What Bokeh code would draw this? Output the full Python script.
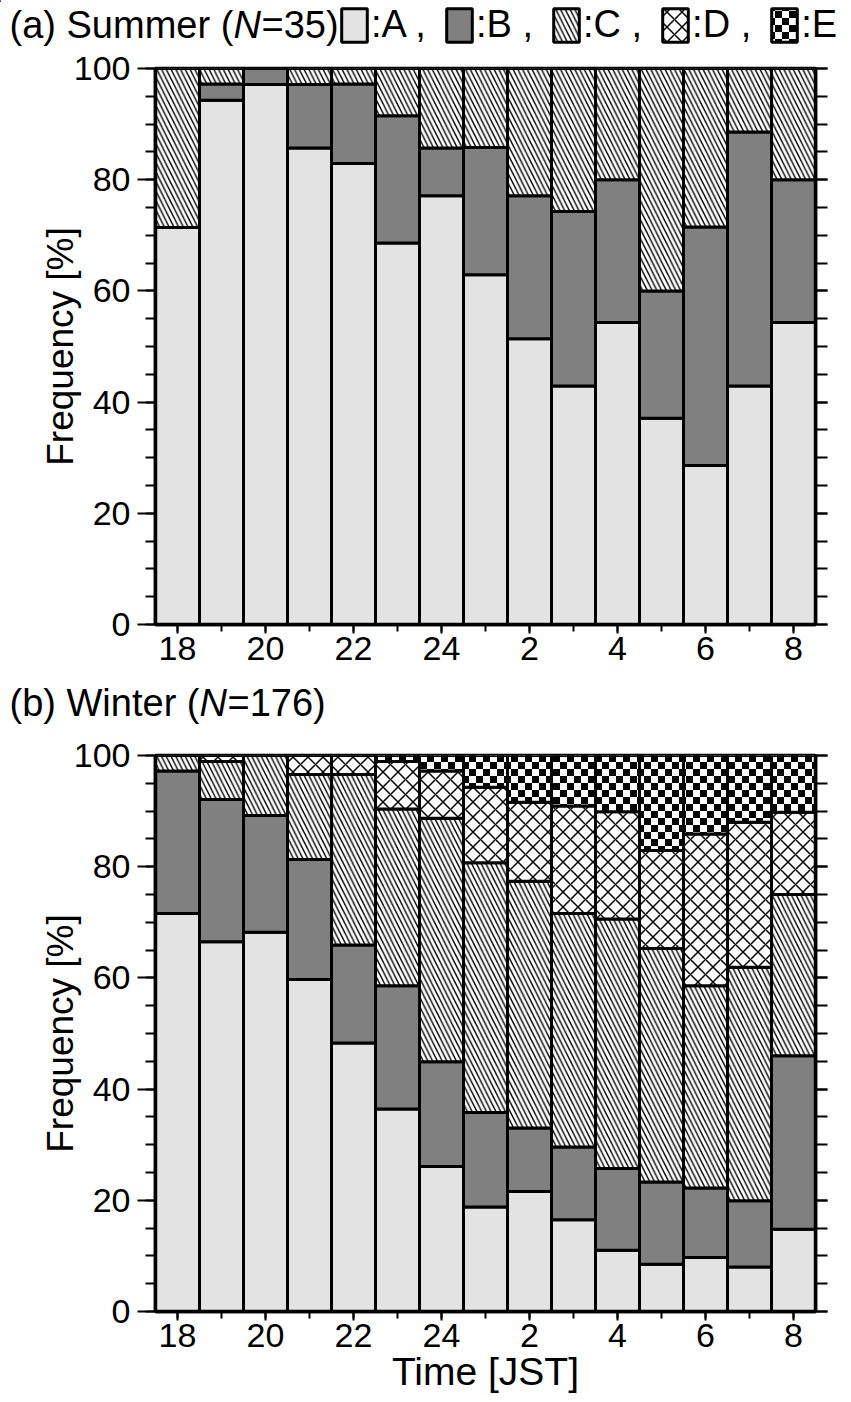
from bokeh.plotting import figure
from bokeh.layouts import column
from bokeh.models import (ColumnDataSource, Range1d, FixedTicker, LinearAxis, Legend,
                          LegendItem, Label, CanvasTexture, Title)
from bokeh.core.properties import value
from bokeh.embed import file_html
from bokeh.resources import INLINE

# ---------------- data ----------------
hours = [18, 19, 20, 21, 22, 23, 24, 25, 26, 27, 28, 29, 30, 31, 32]
tick_positions = [18, 20, 22, 24, 26, 28, 30, 32]
tick_labels = ["18", "20", "22", "24", "2", "4", "6", "8"]
categories = ["A", "B", "C", "D", "E"]
legend_labels = [":A ,", ":B ,", ":C ,", ":D ,", ":E"]

summer_A = [71.4, 94.3, 97.1, 85.7, 82.9, 68.6, 77.1, 62.9, 51.4, 42.9, 54.3, 37.1, 28.6, 42.9, 54.3]
summer_B = [0.0, 2.9, 2.9, 11.4, 14.3, 22.9, 8.6, 22.9, 25.7, 31.4, 25.7, 22.9, 42.9, 45.7, 25.7]
summer_C = [28.6, 2.8, 0.0, 2.9, 2.8, 8.5, 14.3, 14.2, 22.9, 25.7, 20.0, 40.0, 28.5, 11.4, 20.0]
summer_D = [0.0, 0.0, 0.0, 0.0, 0.0, 0.0, 0.0, 0.0, 0.0, 0.0, 0.0, 0.0, 0.0, 0.0, 0.0]
summer_E = [0.0, 0.0, 0.0, 0.0, 0.0, 0.0, 0.0, 0.0, 0.0, 0.0, 0.0, 0.0, 0.0, 0.0, 0.0]

winter_A = [71.6, 66.5, 68.2, 59.7, 48.3, 36.4, 26.1, 18.8, 21.6, 16.5, 11.0, 8.5, 9.7, 8.0, 14.8]
winter_B = [25.6, 25.6, 21.0, 21.6, 17.6, 22.2, 18.8, 17.0, 11.4, 13.1, 14.7, 14.8, 12.5, 11.9, 31.2]
winter_C = [2.8, 6.8, 10.8, 15.3, 30.7, 31.8, 43.8, 44.9, 44.4, 42.0, 44.9, 42.0, 36.4, 42.0, 29.0]
winter_D = [0.0, 1.1, 0.0, 3.4, 3.4, 8.5, 8.5, 13.6, 14.2, 19.3, 19.3, 17.6, 27.3, 26.1, 14.8]
winter_E = [0.0, 0.0, 0.0, 0.0, 0.0, 1.1, 2.8, 5.7, 8.4, 9.1, 10.1, 17.1, 14.1, 12.0, 10.2]

# ---------------- style ----------------
FONT = "Liberation Sans"
checker = CanvasTexture(code="""
const n = 14, h = 7;
ctx.canvas.width = n;
ctx.canvas.height = n;
ctx.setTransform(1, 0, 0, 1, 0, 0);
ctx.fillStyle = "white";
ctx.fillRect(0, 0, n, n);
ctx.fillStyle = "black";
ctx.fillRect(0, 0, h, h);
ctx.fillRect(h, h, h, h);
""")

styles = {
    "A": dict(fill_color="#e3e3e3"),
    "B": dict(fill_color="#808080"),
    "C": dict(fill_color="white", hatch_pattern=value("left_diagonal_line"), hatch_color="black",
              hatch_scale=9.5, hatch_weight=1.4),
    "D": dict(fill_color="white", hatch_pattern=value("diagonal_cross"), hatch_color="black",
              hatch_scale=15, hatch_weight=1.5),
    "E": dict(fill_color="white", hatch_pattern=value("checker"), hatch_extra={"checker": checker},
              hatch_color="black", hatch_scale=14),
}


def header(height, parts, widths, baseline, with_legend):
    h = figure(width=851, height=height, x_range=Range1d(0, 851), y_range=Range1d(height, 0),
               output_backend="svg", toolbar_location=None, x_axis_location=None,
               y_axis_location=None, min_border=0, min_border_left=0, min_border_right=0,
               min_border_top=0, min_border_bottom=0, frame_align=False)
    h.grid.visible = False
    h.outline_line_color = None
    x = 9
    for txt, w, style in zip(parts, widths, ["normal", "italic", "normal"]):
        h.add_layout(Label(x=x, y=baseline, text=txt, text_font=FONT, text_font_size="38px",
                           text_font_style=style, text_baseline="alphabetic", text_color="black"))
        x += w
    if with_legend:
        items = []
        for cat, lab in zip(categories, legend_labels):
            # legend proxy: a zero-height bar lying outside the header's visible range
            r = h.vbar(x=[-100], top=[0], bottom=[0], width=1, line_color="black",
                       line_width=3, **styles[cat])
            items.append(LegendItem(label=lab, renderers=[r]))
        lg = Legend(items=items, location=(338, 1), orientation="horizontal",
                    glyph_width=32, glyph_height=42, label_standoff=1, spacing=17,
                    padding=0, margin=0, border_line_alpha=0, background_fill_alpha=0,
                    label_text_font=FONT, label_text_font_size="38px",
                    label_text_color="black")
        h.add_layout(lg)
    return h


def panel(series, height, b_top, b_bottom, xlabel):
    p = figure(width=851, height=height, x_range=Range1d(17.5, 32.5), y_range=Range1d(0, 100),
               output_backend="svg", toolbar_location=None,
               min_border_left=155, min_border_right=36,
               min_border_top=b_top, min_border_bottom=b_bottom, frame_align=False)
    p.grid.visible = False
    p.outline_line_color = "black"
    p.outline_line_width = 3.5

    bottom = [0.0] * len(hours)
    for cat in categories:
        vals = series[cat]
        top = [b + v for b, v in zip(bottom, vals)]
        keep = [i for i, v in enumerate(vals) if v > 0]
        src = ColumnDataSource(dict(x=[hours[i] for i in keep],
                                    bottom=[bottom[i] for i in keep],
                                    top=[top[i] for i in keep]))
        p.vbar(x="x", bottom="bottom", top="top", width=1.0, source=src,
               line_color="black", line_width=3, **styles[cat])
        bottom = top

    p.xaxis.ticker = FixedTicker(ticks=tick_positions, minor_ticks=hours)
    p.xaxis.major_label_overrides = {t: l for t, l in zip(tick_positions, tick_labels)}
    yticks = list(range(0, 101, 20))
    yminor = list(range(0, 101, 5))
    p.yaxis.ticker = FixedTicker(ticks=yticks, minor_ticks=yminor)
    right = LinearAxis(ticker=FixedTicker(ticks=yticks, minor_ticks=yminor))
    right.major_label_overrides = {t: "" for t in yticks}
    p.add_layout(right, "right")
    for ax in p.xaxis + p.yaxis + [right]:
        ax.axis_line_color = "black"
        ax.axis_line_width = 3.5
        ax.major_tick_line_color = "black"
        ax.minor_tick_line_color = "black"
        ax.major_tick_line_width = 2
        ax.minor_tick_line_width = 2
        ax.major_tick_in = 0
        ax.minor_tick_in = 0
        ax.major_label_text_font = FONT
        ax.major_label_text_font_size = "34px"
        ax.major_label_text_color = "black"
    for ax in p.xaxis:
        ax.major_tick_out = 9
        ax.minor_tick_out = 7
        ax.major_label_standoff = 3
    for ax in p.yaxis:
        ax.major_tick_out = 18
        ax.minor_tick_out = 10
        ax.major_label_standoff = 7
    right.major_tick_out = 12
    right.minor_tick_out = 12
    right.major_label_standoff = 0

    p.add_layout(Title(text="Frequency [%]", align="center", offset=28, standoff=-20,
                       text_font=FONT, text_font_size="37px", text_font_style="normal",
                       text_color="black"), "left")
    if xlabel:
        p.add_layout(Title(text="Time [JST]", align="center", offset=9, standoff=-4,
                           text_font=FONT, text_font_size="39px", text_font_style="normal",
                           text_color="black"), "below")
    return p


summer = dict(A=summer_A, B=summer_B, C=summer_C, D=summer_D, E=summer_E)
winter = dict(A=winter_A, B=winter_B, C=winter_C, D=winter_D, E=winter_E)

h1 = header(47, ["(a) Summer (", "N", "=35)"], [224, 28, 0], 24, True)
p1 = panel(summer, 633, 21, 56, False)
h2 = header(54, ["(b) Winter (", "N", "=176)"], [190, 28, 0], 22, False)
p2 = panel(winter, 668, 21, 91, True)

layout = column(h1, p1, h2, p2)
open("out.html", "w").write(file_html(layout, INLINE))
